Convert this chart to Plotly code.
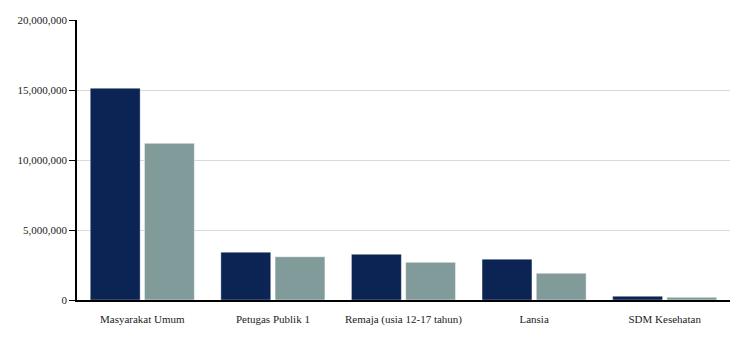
import plotly.graph_objects as go

categories = ["Masyarakat Umum", "Petugas Publik 1", "Remaja (usia 12-17 tahun)", "Lansia", "SDM Kesehatan"]
dose_1 = [15120000, 3410000, 3260000, 2910000, 260000]
dose_2 = [11190000, 3090000, 2690000, 1910000, 190000]
y_ticks = [0, 5000000, 10000000, 15000000, 20000000]

fig = go.Figure()
fig.add_trace(go.Bar(x=categories, y=dose_1, name="Dosis 1",
                     marker=dict(color="#0b2454", line=dict(color="rgba(255,255,255,0.35)", width=1))))
fig.add_trace(go.Bar(x=categories, y=dose_2, name="Dosis 2",
                     marker=dict(color="#819a9a", line=dict(color="rgba(255,255,255,0.45)", width=1))))

fig.update_layout(
    width=750, height=337,
    margin=dict(l=77, r=20, t=20, b=37),
    paper_bgcolor="white", plot_bgcolor="white",
    barmode="group", bargap=0.17, bargroupgap=0.08,
    showlegend=False,
    font=dict(family='"Liberation Serif", "Times New Roman", Times, serif', size=11, color="#222"),
)
fig.update_xaxes(showline=True, linecolor="black", linewidth=1.5, ticks="",
                 ticklabelstandoff=8, showgrid=False, automargin=False)
fig.update_yaxes(range=[0, 20000000], tickvals=y_ticks, tickformat=",d",
                 showline=True, linecolor="black", linewidth=1.5,
                 ticks="outside", ticklen=6, tickcolor="black", automargin=False,
                 showgrid=True, gridcolor="#d9d9d9", gridwidth=1, zeroline=False)

fig.write_html("out.html")
